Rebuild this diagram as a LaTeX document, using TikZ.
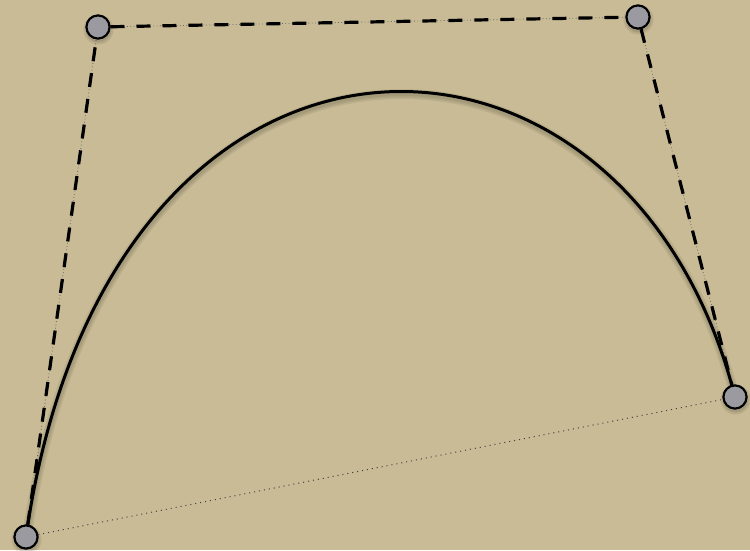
\documentclass[tikz,border=0pt]{standalone}
\begin{document}
\begin{tikzpicture}[x=1pt,y=-1pt,
  ctrlpt/.style={circle,draw=black,line width=2pt,fill=ptgray,minimum size=23pt,inner sep=0pt},
  handle/.style={line width=3.2pt,dash pattern=on 14pt off 12pt,draw=black},
  handledots/.style={line width=0.8pt,dash pattern=on 0.8pt off 2.5pt,draw=black!60},
  chord/.style={line width=1pt,dash pattern=on 1pt off 4pt,draw=black!75},
  curveline/.style={line width=3pt,draw=black},
  shadowline/.style={draw=black,opacity=0.06}]
\definecolor{bg}{RGB}{200,187,149}
\definecolor{ptgray}{RGB}{154,154,160}
\fill[bg] (0,0) rectangle (750,550);
\useasboundingbox (0,0) rectangle (750,550);
\coordinate (c1) at (106.6,-34.2);
\coordinate (c2) at (626.4,-28.6);
\node[ctrlpt] (p0) at (26,537) {};
\node[ctrlpt] (p1) at (98,27) {};
\node[ctrlpt] (p2) at (638,17) {};
\node[ctrlpt] (p3) at (735,397) {};
% chord
\draw[chord] (p0) -- (p3);
% handles
\draw[handledots] (p0) -- (p1);
\draw[handledots] (p1) -- (p2);
\draw[handledots] (p2) -- (p3);
\draw[handle] (p0) -- (p1);
\draw[handle] (p1) -- (p2);
\draw[handle] (p2) -- (p3);
% curve soft shadow and curve
\foreach \w in {10,7,4}{
  \draw[shadowline,line width=\w pt] ([shift={(0.5,2.5)}]p0.center) .. controls ([shift={(0.5,2.5)}]c1) and ([shift={(0.5,2.5)}]c2) .. ([shift={(0.5,2.5)}]p3.center);
}
\draw[curveline] (p0.center) .. controls (c1) and (c2) .. (p3.center);
% points on top
\foreach \n/\pos in {p0/{(26,537)},p1/{(98,27)},p2/{(638,17)},p3/{(735,397)}}{
  \fill[black,opacity=0.08] \pos ++(0.5,2.5) circle (15pt);
  \fill[black,opacity=0.1] \pos ++(0.5,2.5) circle (13pt);
  \node[ctrlpt] at \pos {};
}
\end{tikzpicture}
\end{document}
